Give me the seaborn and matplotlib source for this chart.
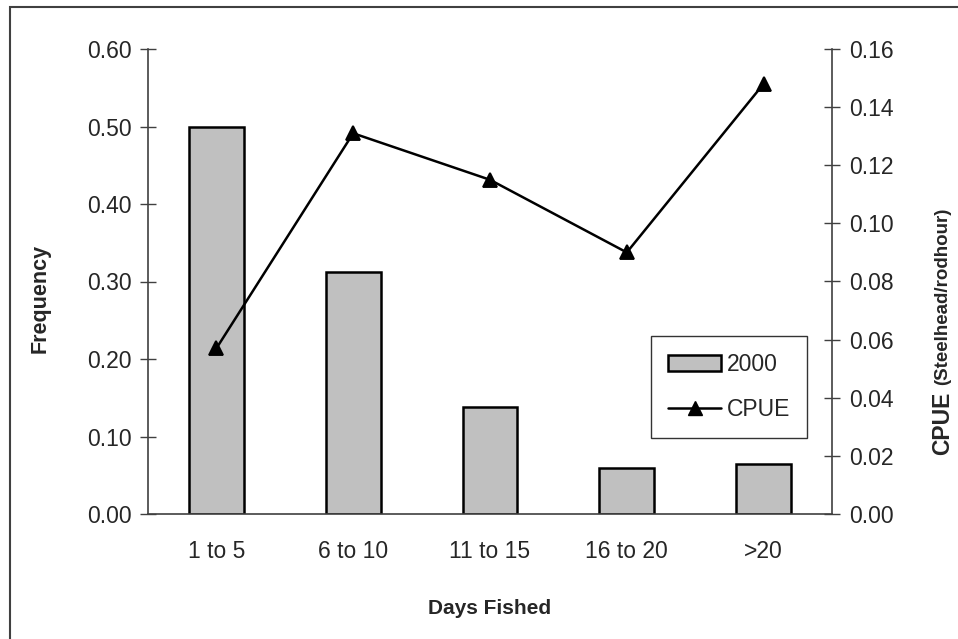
import numpy as np
import pandas as pd
import matplotlib
matplotlib.use("Agg")
import matplotlib.pyplot as plt
from matplotlib.patches import Rectangle, Patch
from matplotlib.lines import Line2D
from matplotlib.ticker import FormatStrFormatter, FixedLocator
import seaborn as sns

# === datos ===
days = ["1 to 5", "6 to 10", "11 to 15", "16 to 20", ">20"]
frequency = [0.50, 0.312, 0.138, 0.060, 0.065]
cpue = [0.057, 0.131, 0.115, 0.090, 0.148]

sns.set_style("white")
plt.rcParams["font.family"] = ["Liberation Sans", "DejaVu Sans"]

df = pd.DataFrame({"days": days, "frequency": frequency, "cpue": cpue})

fig = plt.figure(figsize=(9.58, 6.39), dpi=100)
ax = fig.add_axes([148 / 958, 1 - 514 / 639, (832 - 148) / 958, (514 - 49) / 639])
ax2 = ax.twinx()

# barras de frecuencia
sns.barplot(data=df, x="days", y="frequency", ax=ax, color="#C0C0C0",
            edgecolor="black", linewidth=1.8, width=0.4, saturation=1)

# linea CPUE
sns.pointplot(data=df, x="days", y="cpue", ax=ax2, color="black", markers="^",
              linestyles="-", markersize=9.5, linewidth=1.8)

ax.set_xlim(-0.5, 4.5)
ax2.set_xlim(-0.5, 4.5)
ax.set_ylim(0, 0.60)
ax2.set_ylim(0, 0.16)
ax.set_yticks(np.arange(0, 0.61, 0.10))
ax2.set_yticks(np.arange(0, 0.161, 0.02))
ax.yaxis.set_major_formatter(FormatStrFormatter("%.2f"))
ax2.yaxis.set_major_formatter(FormatStrFormatter("%.2f"))

# ticks en los limites de categoria, etiquetas al centro
ax.xaxis.set_major_locator(FixedLocator(np.arange(-0.5, 5, 1.0)))
ax.xaxis.set_minor_locator(FixedLocator(np.arange(0, 5)))
ax.set_xticklabels([], minor=False)
ax.set_xticklabels(days, minor=True)
ax2.set_xticks([])
ax.tick_params(axis="x", which="major", direction="inout", length=12, width=1,
               color="#404040", bottom=True)
ax.tick_params(axis="x", which="minor", length=0, labelsize=16.5, pad=19,
               bottom=True)
ax.tick_params(axis="y", direction="inout", length=12, width=1, color="#404040",
               labelsize=16.5, pad=6, left=True)
ax2.tick_params(axis="y", direction="inout", length=12, width=1, color="#404040",
                labelsize=16.5, pad=6, right=True)

for a in (ax, ax2):
    a.set_xlabel("")
    a.set_ylabel("")
    a.spines["top"].set_visible(False)
    for s in ("left", "bottom", "right"):
        a.spines[s].set_color("#404040")
        a.spines[s].set_linewidth(1.2)
ax.spines["right"].set_visible(False)
ax2.spines["left"].set_visible(False)
ax2.spines["bottom"].set_visible(False)

# titulos de ejes
fig.text(40 / 958, 1 - 298 / 639, "Frequency", rotation=90, fontsize=15.5,
         fontweight="bold", ha="center", va="center")
fig.text(490 / 958, 1 - 608 / 639, "Days Fished", fontsize=15,
         fontweight="bold", ha="center", va="center")
fig.text(943 / 958, 1 - 455 / 639, "CPUE", rotation=90, fontsize=16.5,
         fontweight="bold", ha="center", va="bottom")
fig.text(943 / 958, 1 - 385 / 639, "(Steelhead/rodhour)", rotation=90,
         fontsize=13.5, fontweight="bold", ha="center", va="bottom")

# leyenda
handles = [Patch(facecolor="#C0C0C0", edgecolor="black", linewidth=1.8),
           Line2D([], [], color="black", marker="^", markersize=10, linewidth=1.8)]
leg = fig.legend(handles, ["2000", "CPUE"], loc="upper left",
                 bbox_to_anchor=(651 / 958, 1 - 336 / 639), fontsize=16.5,
                 frameon=True, fancybox=False, edgecolor="black",
                 borderaxespad=0, handlelength=2.3, handletextpad=0.25,
                 labelspacing=0.95, borderpad=0.75)
leg.get_frame().set_linewidth(1.0)

# borde de la figura
fig.patches.append(Rectangle((10 / 958, -0.1), 1.2, 1 - 7 / 639 + 0.1,
                             transform=fig.transFigure, fill=False,
                             edgecolor="#404040", linewidth=1.5))

fig.savefig("out.png", dpi=100)
